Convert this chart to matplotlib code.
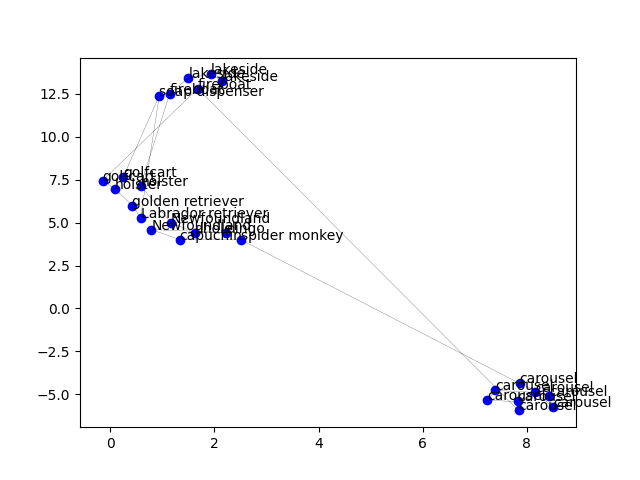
import matplotlib
matplotlib.use('Agg')
import matplotlib.pyplot as plt

# embedding points, in the order the line visits them
xs = [0.25, 0.94, 0.58, 0.42, 0.08, -0.15, 1.68,
      7.84, 7.82, 7.24, 7.39, 8.16, 8.51, 8.43, 7.86,
      2.50, 1.33, 0.79, 2.23, 1.62, 1.16, 0.58, 1.14, 1.50, 1.93, 2.14]
ys = [7.67, 12.38, 5.29, 5.99, 6.98, 7.44, 12.79,
      -5.93, -5.41, -5.35, -4.77, -4.88, -5.76, -5.12, -4.36,
      4.01, 4.01, 4.59, 4.42, 4.42, 5.00, 7.15, 12.50, 13.43, 13.62, 13.26]
labels = ['golfcart', 'soap dispenser', 'Labrador retriever', 'golden retriever',
          'holster', 'golfcart', 'fireboat',
          'carousel', 'carousel', 'carousel', 'carousel', 'carousel', 'carousel',
          'carousel', 'carousel',
          'spider monkey', 'capuchin', 'Newfoundland', 'dingo', 'dhole',
          'Newfoundland', 'holster', 'fireboat',
          'lakeside', 'lakeside', 'lakeside']

fig, ax = plt.subplots(figsize=(6.4, 4.8), dpi=100)
ax.plot(xs, ys, color='black', linewidth=0.15)
ax.scatter(xs, ys, color='blue')
for x, y, label in zip(xs, ys, labels):
    ax.annotate(label, (x, y))

fig.savefig('out.png')
